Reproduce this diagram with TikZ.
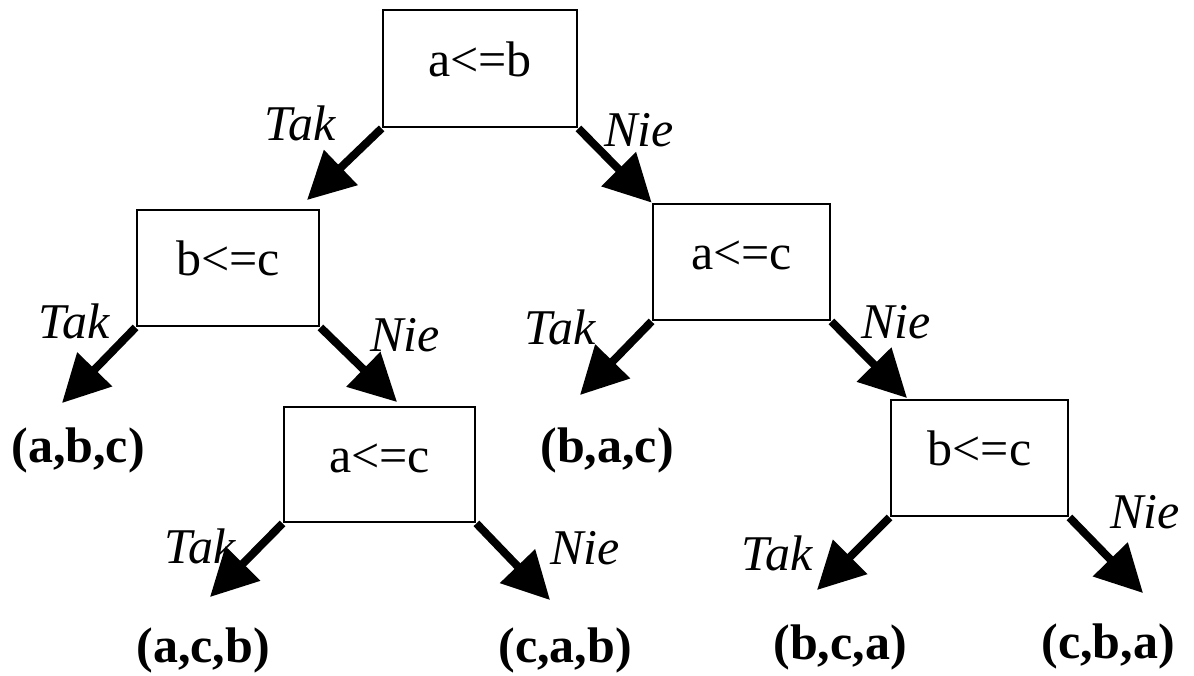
\documentclass[tikz,border=0pt]{standalone}
\usepackage{fontspec}
\setmainfont{Liberation Serif}
\usetikzlibrary{arrows, arrows.meta, positioning}

\begin{document}
\begin{tikzpicture}[x=0.5pt, y=-0.5pt,
			>={Triangle[length=23.5pt, width=23.5pt]},   %Pfeilspitzen
			font=\fontsize{25}{30}\selectfont,
			test/.style={draw, line width=1.4pt, inner sep=0pt, text height=17pt, text depth=9.5pt},
			branch/.style={->, line width=4pt},
			answer/.style={font=\fontsize{25}{30}\selectfont\itshape, inner sep=0pt},
			leaf/.style={font=\fontsize{25}{30}\selectfont\bfseries, inner sep=0pt}]
			% Bildbereich
			\useasboundingbox (0,0) rectangle (1194,675);
			% Vergleiche
			\node[test, minimum width=97pt, minimum height=58.5pt] (ab) at (480,68.5) {a<=b};
			\node[test, minimum width=91pt, minimum height=58pt] (bcl) at (228,268) {b<=c};
			\node[test, minimum width=88.5pt, minimum height=58pt] (acr) at (741.5,262) {a<=c};
			\node[test, minimum width=95.5pt, minimum height=57.5pt] (acl) at (379.5,464.5) {a<=c};
			\node[test, minimum width=88.5pt, minimum height=58pt] (bcr) at (979.5,458) {b<=c};
			% Ergebnisse
			\node[leaf] (abc) at (78,450) {(a,b,c)};
			\node[leaf] (bac) at (607,450) {(b,a,c)};
			\node[leaf] (acb) at (203,650) {(a,c,b)};
			\node[leaf] (cab) at (565,650) {(c,a,b)};
			\node[leaf] (bca) at (840,647) {(b,c,a)};
			\node[leaf] (cba) at (1108,646) {(c,b,a)};
			% Pfeilspitzen
			\coordinate (t1) at (307,200);
			\coordinate (t3) at (62,403);
			\coordinate (t4) at (397,402);
			\coordinate (t5) at (580,395);
			\coordinate (t6) at (907,398);
			\coordinate (t7) at (210,597);
			\coordinate (t8) at (550,600);
			\coordinate (t9) at (817,590);
			\coordinate (t10) at (1143,593);
			% Pfeile
			\draw[branch] (ab.south west) -- (t1);
			\draw[branch] (ab.south east) -- (acr.north west);
			\draw[branch] (bcl.south west) -- (t3);
			\draw[branch] (bcl.south east) -- (t4);
			\draw[branch] (acr.south west) -- (t5);
			\draw[branch] (acr.south east) -- (t6);
			\draw[branch] (acl.south west) -- (t7);
			\draw[branch] (acl.south east) -- (t8);
			\draw[branch] (bcr.south west) -- (t9);
			\draw[branch] (bcr.south east) -- (t10);
			% Beschriftung
			\node[answer] (y1) at (300,123) {Tak};
			\node[answer] (n1) at (639,130) {Nie};
			\node[answer] (y2) at (74,321) {Tak};
			\node[answer] (n2) at (405,335) {Nie};
			\node[answer] (y3) at (560,327) {Tak};
			\node[answer] (n3) at (896,322) {Nie};
			\node[answer] (y4) at (200,546) {Tak};
			\node[answer] (n4) at (585,548) {Nie};
			\node[answer] (y5) at (777,553) {Tak};
			\node[answer] (n5) at (1145,512) {Nie};
		\end{tikzpicture}
\end{document}
